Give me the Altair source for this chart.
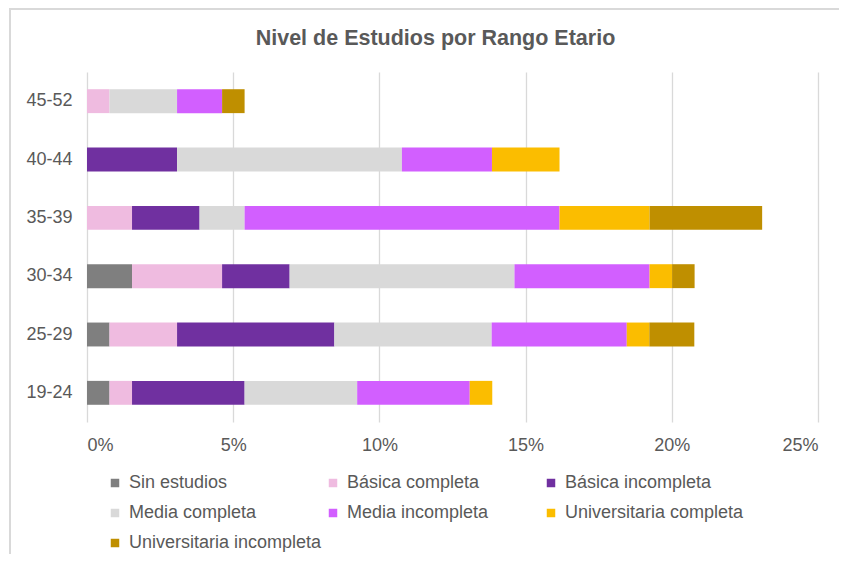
import altair as alt
import pandas as pd

ages = ["19-24", "25-29", "30-34", "35-39", "40-44", "45-52"]
levels = [
    "Sin estudios",
    "Básica completa",
    "Básica incompleta",
    "Media completa",
    "Media incompleta",
    "Universitaria completa",
    "Universitaria incompleta",
]
colors = ["#7f7f7f", "#efbbe0", "#7030a0", "#d9d9d9", "#d25fff", "#fbbd00", "#bf8f00"]

# percentages (%)
sin_estudios = [0.77, 0.77, 1.54, 0.00, 0.00, 0.00]
basica_completa = [0.77, 2.31, 3.08, 1.54, 0.00, 0.77]
basica_incompleta = [3.85, 5.38, 2.31, 2.31, 3.08, 0.00]
media_completa = [3.85, 5.38, 7.69, 1.54, 7.69, 2.31]
media_incompleta = [3.85, 4.62, 4.62, 10.77, 3.08, 1.54]
univ_completa = [0.77, 0.77, 0.77, 3.08, 2.31, 0.00]
univ_incompleta = [0.00, 1.54, 0.77, 3.85, 0.00, 0.77]

series = [sin_estudios, basica_completa, basica_incompleta, media_completa,
          media_incompleta, univ_completa, univ_incompleta]

rows = []
for li, (lev, vals) in enumerate(zip(levels, series)):
    for a, v in zip(ages, vals):
        rows.append({"Rango": a, "Nivel": lev, "orden": li, "valor": v / 100.0})
df = pd.DataFrame(rows)

font = "Liberation Sans"
txt = "#595959"

bars = alt.Chart(df).mark_bar().encode(
    y=alt.Y("Rango:N", sort=list(reversed(ages)), title=None,
            scale=alt.Scale(paddingInner=0.59, paddingOuter=0.295),
            axis=alt.Axis(domain=False, ticks=False, grid=False, labelFontSize=18,
                          labelColor=txt, labelFont=font, labelPadding=15)),
    x=alt.X("sum(valor):Q", stack="zero", title=None,
            scale=alt.Scale(domain=[0, 0.25], nice=False),
            axis=alt.Axis(values=[0, 0.05, 0.10, 0.15, 0.20, 0.25], format=".0%",
                          domain=False, ticks=False, grid=True, gridColor="#d9d9d9",
                          gridWidth=1.3, labelFontSize=18, labelColor=txt,
                          labelFont=font, labelPadding=14)),
    color=alt.Color("Nivel:N", scale=alt.Scale(domain=levels, range=colors),
                    legend=alt.Legend(title=None, orient="none", legendX=19, legendY=402,
                                      direction="horizontal",
                                      columns=3, gridAlign="all", columnPadding=2,
                                      rowPadding=12, symbolType="square", symbolSize=72,
                                      symbolStrokeWidth=0, labelOffset=5,
                                      labelFontSize=18, labelColor=txt, labelFont=font,
                                      labelLimit=400)),
    order=alt.Order("orden:Q"),
)

frame = alt.Chart(pd.DataFrame({"a": [0]})).mark_rect(
    fill=None, stroke="#d9d9d9", strokeWidth=2
).encode(x=alt.value(-77), x2=alt.value(800), y=alt.value(-63), y2=alt.value(520))

chart = alt.layer(frame, bars).properties(
    width=731,
    height=350,
    title=alt.TitleParams("Nivel de Estudios por Rango Etario", fontSize=21.5,
                          fontWeight="bold", color=txt, font=font, dx=-17, offset=-41,
                          frame="group"),
    autosize=alt.AutoSizeParams(type="none"),
    padding={"left": 79, "top": 64, "right": 21, "bottom": 132},
).configure_view(stroke=None)

chart.save("out.html", embed_options={"renderer": "svg", "actions": False})
